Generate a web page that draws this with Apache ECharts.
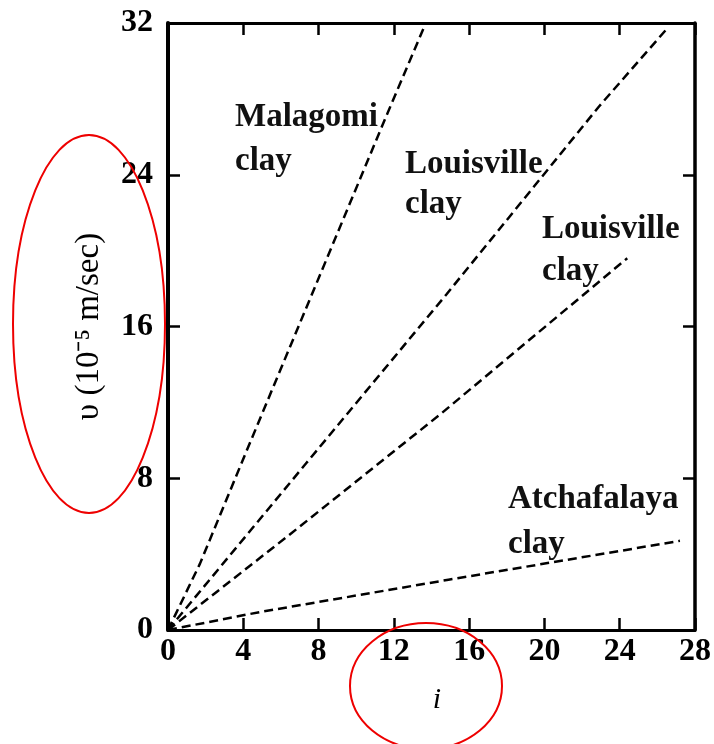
<!DOCTYPE html>
<html><head><meta charset="utf-8">
<script src="https://cdn.jsdelivr.net/npm/echarts@6/dist/echarts.min.js"></script>
<style>html,body{margin:0;padding:0;background:#fff}#c{width:714px;height:744px}</style>
</head><body><div id="c"></div>
<script>
var xTicks = [0, 4, 8, 12, 16, 20, 24, 28];
var yTicks = [0, 8, 16, 24, 32];
var malagomi = [[0, 0], [1.7, 3.5], [4.2, 9.5], [11.6, 27.1], [13.7, 32]];
var louisvilleUpper = [[0, 0], [7.35, 8.8], [14.8, 17.7], [22.9, 27.6], [26.6, 31.8]];
var louisvilleLower = [[0, 0], [6.3, 4.9], [14.5, 11.4], [24.4, 19.6]];
var atchafalaya = [[0, 0], [4.9, 0.95], [14.9, 2.65], [27.2, 4.7]];

var chart = echarts.init(document.getElementById('c'));
var serif = 'Liberation Serif';
function lineSeries(name, data) {
  return {
    name: name, type: 'line', data: data, symbol: 'none',
    lineStyle: { color: '#000', width: 2.5, type: [9, 5] }, z: 3
  };
}
var lbl = { fontFamily: serif, fontSize: 33, fontWeight: 'bold', fill: '#111' };
function txt(x, top, s) {
  return { type: 'text', x: x, y: top, style: Object.assign({ text: s }, lbl) };
}
chart.setOption({
  animation: false,
  grid: { left: 168, right: 17, top: 23, bottom: 114 },
  xAxis: [{
    type: 'value', min: 0, max: 28, interval: 4, position: 'bottom',
    axisLine: { onZero: false, lineStyle: { color: '#000', width: 3 } },
    axisTick: { inside: true, length: 12, lineStyle: { color: '#000', width: 2.5 } },
    axisLabel: { color: '#000', fontFamily: serif, fontSize: 32, fontWeight: 'bold', margin: 6 },
    splitLine: { show: false }
  }, {
    type: 'value', min: 0, max: 28, interval: 4, position: 'top',
    axisLine: { show: true, onZero: false, lineStyle: { color: '#000', width: 3 } },
    axisTick: { show: true, inside: true, length: 12, lineStyle: { color: '#000', width: 2.5 } },
    axisLabel: { show: false }, splitLine: { show: false }
  }],
  yAxis: [{
    type: 'value', min: 0, max: 32, interval: 8, position: 'left',
    axisLine: { show: true, onZero: false, lineStyle: { color: '#000', width: 4 } },
    axisTick: { show: true, inside: true, length: 12, lineStyle: { color: '#000', width: 2.5 } },
    axisLabel: { color: '#000', fontFamily: serif, fontSize: 32, fontWeight: 'bold', margin: 15 },
    splitLine: { show: false },
    name: 'υ (10⁻⁵ m/sec)', nameLocation: 'middle', nameGap: 62,
    nameTextStyle: { fontFamily: serif, fontSize: 33, color: '#000' }
  }, {
    type: 'value', min: 0, max: 32, interval: 8, position: 'right',
    axisLine: { show: true, onZero: false, lineStyle: { color: '#000', width: 3.5 } },
    axisTick: { show: true, inside: true, length: 12, lineStyle: { color: '#000', width: 2.5 } },
    axisLabel: { show: false }, splitLine: { show: false }
  }],
  series: [
    lineSeries('Malagomi clay', malagomi),
    lineSeries('Louisville clay', louisvilleUpper),
    lineSeries('Louisville clay (2)', louisvilleLower),
    lineSeries('Atchafalaya clay', atchafalaya)
  ],
  graphic: [
    txt(235, 101, 'Malagomi'), txt(235, 145, 'clay'),
    txt(405, 148, 'Louisville'), txt(405, 188, 'clay'),
    txt(542, 213, 'Louisville'), txt(542, 255, 'clay'),
    txt(508, 483, 'Atchafalaya'), txt(508, 528, 'clay'),
    { type: 'text', x: 437, y: 700, style: { text: 'i', fontFamily: serif, fontStyle: 'italic', fontSize: 30, fill: '#000', align: 'center', verticalAlign: 'middle' } },
    { type: 'ellipse', shape: { cx: 89, cy: 324, rx: 76, ry: 189 }, style: { fill: 'none', stroke: '#e00', lineWidth: 2 }, z: 100 },
    { type: 'ellipse', shape: { cx: 426, cy: 686, rx: 76, ry: 63 }, style: { fill: 'none', stroke: '#e00', lineWidth: 2 }, z: 100 }
  ]
});
</script></body></html>
